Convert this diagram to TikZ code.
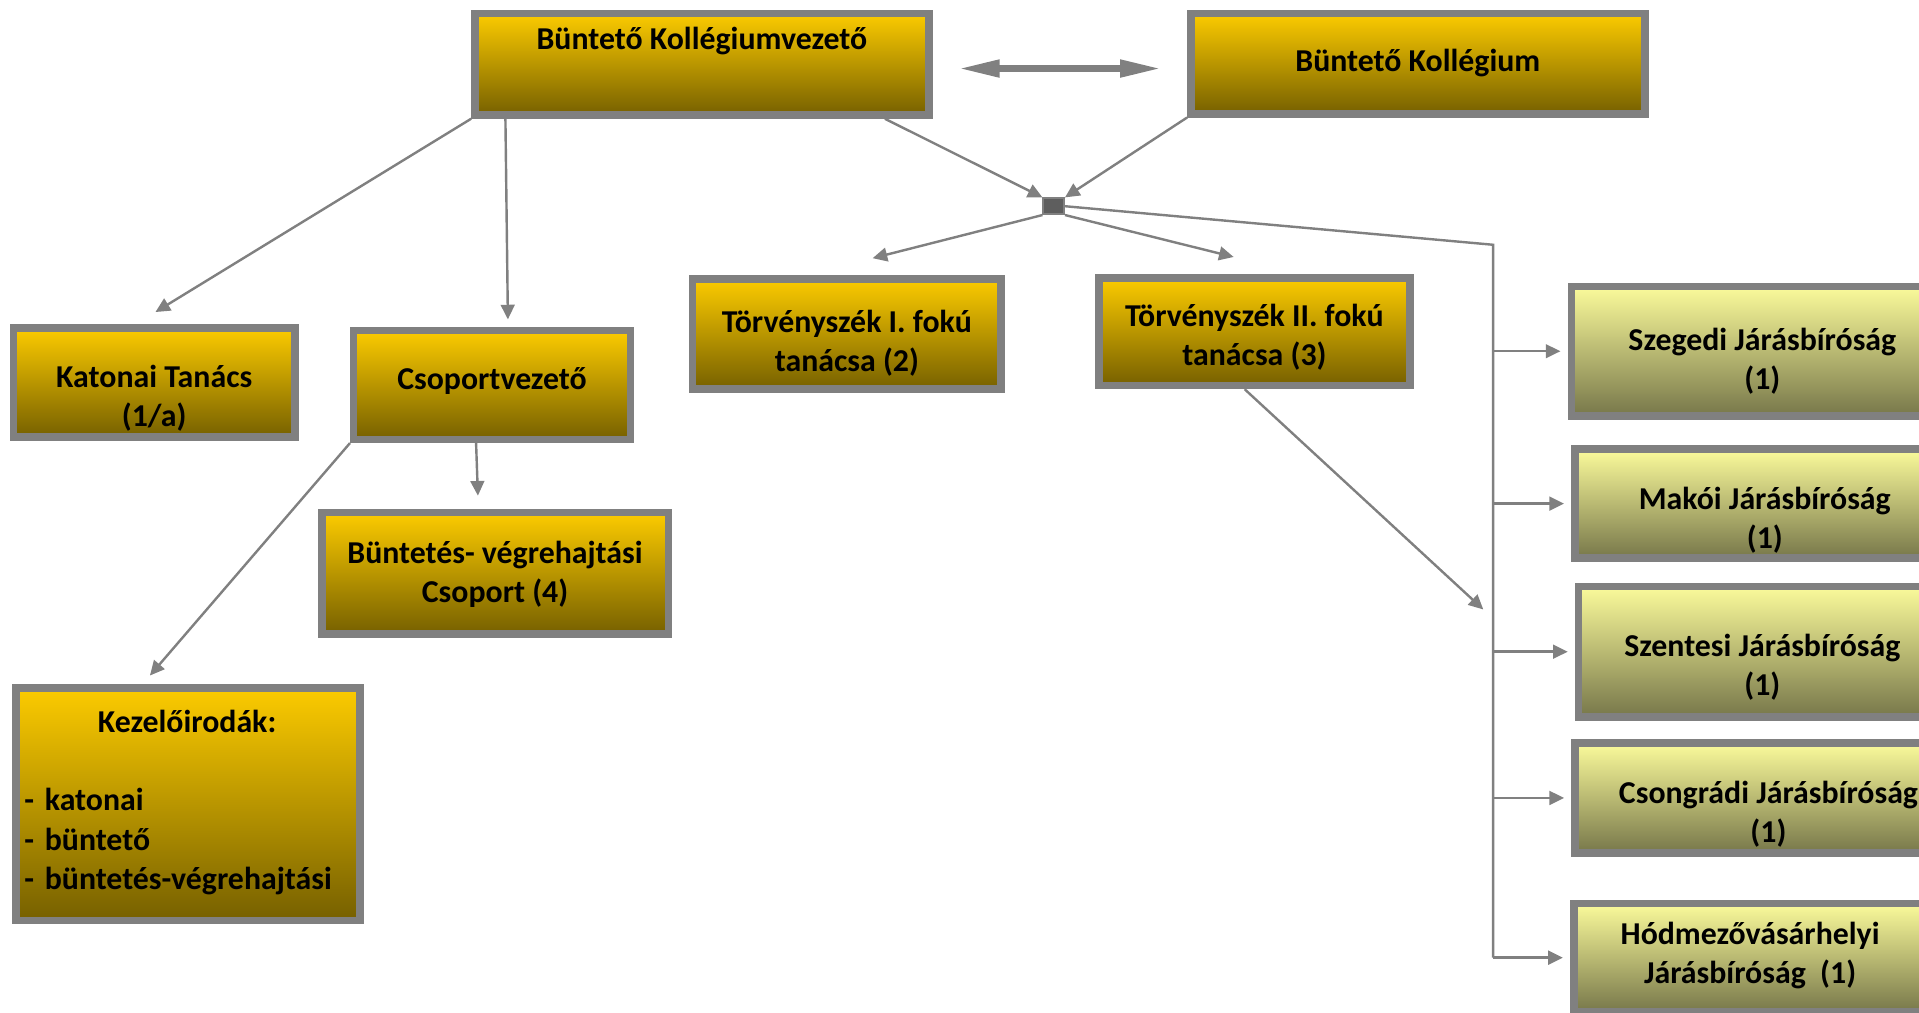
\documentclass[tikz,border=0pt]{standalone}
\usepackage{fontspec}
\setmainfont{Carlito}
\usepackage{tikz}
\usetikzlibrary{arrows.meta,calc,positioning}
\definecolor{framegray}{HTML}{808080}
\definecolor{goldtop}{HTML}{FCCB00}
\definecolor{goldbot}{HTML}{766000}
\definecolor{paletop}{HTML}{FBFB9B}
\definecolor{palebot}{HTML}{77774A}
\definecolor{hubgray}{HTML}{5E5E5E}
\def\px{0.025cm}
\tikzstyle{gbox} = [
    rectangle, draw=framegray, line width=4.3pt, inner sep=0pt, align=center,
    text depth=0pt, font=\fontsize{18.5}{22.8}\selectfont\bfseries,
    top color=goldtop, bottom color=goldbot]
\tikzstyle{jbox} = [gbox, top color=paletop, bottom color=palebot]
\tikzstyle{hubbox} = [rectangle, draw=framegray, fill=hubgray, line width=1pt,
    inner sep=0pt, minimum width=17*\px, minimum height=13*\px]
\tikzstyle{wire} = [draw=framegray, line width=1.4pt]
\tikzstyle{arrow} = [wire, -{Triangle[length=8.5pt,width=8pt]}]
\tikzstyle{twoway} = [draw=framegray, line width=3.9pt,
    {Triangle[length=24pt,width=9.5pt]}-{Triangle[length=24pt,width=9.5pt]}]

\begin{document}
\begin{tikzpicture}[x=\px, y=-\px]
\useasboundingbox (0,0) rectangle (1568,827);

% top row
\node (kv) [gbox, text height=2.8pt, text depth=20pt, minimum width=371*\px, minimum height=83*\px] at (573.5,52.5) {Büntető Kollégiumvezető};
\node (bk) [gbox, text height=29.1pt, text depth=20pt, minimum width=371*\px, minimum height=82*\px] at (1158.5,52) {Büntető Kollégium};
\node (hub) [hubbox] at (861,168.5) {};

% second row
\node (kat) [gbox, text height=51.1pt, minimum width=230*\px, minimum height=89*\px] at (126,312.5) {Katonai Tanács\\(1/a)};
\node (csop) [gbox, text height=25.5pt, text depth=20pt, minimum width=226*\px, minimum height=89*\px] at (402,314.5) {Csoportvezető};
\node (tI) [gbox, text height=43.3pt, minimum width=252*\px, minimum height=90*\px] at (692,273) {Törvényszék I. fokú\\tanácsa (2)};
\node (tII) [gbox, text height=39.1pt, minimum width=254*\px, minimum height=88*\px] at (1025,271) {Törvényszék II. fokú\\tanácsa (3)};
\node (bv) [gbox, text height=34.1pt, minimum width=283*\px, minimum height=99*\px] at (404.5,468.5) {Büntetés- végrehajtási\\Csoport (4)};
\node (kez) [gbox, align=left, text width=267*\px, text height=16.6pt, text depth=100pt,
    minimum width=281*\px, minimum height=190*\px] at (153.5,657) {
    \makebox[189pt]{Kezelőirodák:}\\ ~\\
    - katonai\\
    - büntető\\
    - büntetés-végrehajtási
};

% district courts
\node (szeg) [jbox, text height=44.7pt, minimum width=312*\px, minimum height=106*\px] at (1440,287) {Szegedi Járásbíróság\\(1)};
\node (mako) [jbox, text height=52.6pt, minimum width=310*\px, minimum height=89*\px] at (1442,411.5) {Makói Járásbíróság\\(1)};
\node (szent) [jbox, text height=51.1pt, minimum width=300*\px, minimum height=107*\px] at (1440,532.5) {Szentesi Járásbíróság\\(1)};
\node (csong) [jbox, text height=51.9pt, minimum width=316*\px, minimum height=90*\px] at (1445,652) {Csongrádi Járásbíróság\\(1)};
\node (hod) [jbox, text height=29.8pt, minimum width=288*\px, minimum height=89*\px] at (1430,782.5) {Hódmezővásárhelyi\\Járásbíróság\ \ (1)};

\coordinate (bustop) at (1220,200);
\coordinate (tIIend) at (1212,498);

\draw [twoway] ($(kv.east)+(21,3.5)$) -- ($(bk.west)+(-21,4)$);
\draw [arrow] (kv.south west) -- ($(kat.north)+(1,-10)$);
\draw [arrow] ($(kv.south west)+(28,0)$) -- ($(csop.north)+(13,-6)$);
\draw [arrow] ($(kv.south east)+(-39,0)$) -- (hub.north west);
\draw [arrow] (bk.south west) -- (hub.north east);
\draw [arrow] (hub.south west) -- ($(tI.north)+(21,-14)$);
\draw [arrow] (hub.south east) -- ($(tII.north)+(-17,-14)$);
\draw [wire] (hub.east) -- (bustop) -- (bustop |- hod.west);
\draw [arrow] (bustop |- szeg.west) -- ($(szeg.west)+(-6,0)$);
\draw [arrow] (bustop |- mako.west) -- ($(mako.west)+(-6,0)$);
\draw [arrow] (bustop |- szent.west) -- ($(szent.west)+(-6,0)$);
\draw [arrow] (bustop |- csong.west) -- ($(csong.west)+(-6,0)$);
\draw [arrow] (bustop |- hod.west) -- ($(hod.west)+(-6,0)$);
\draw [arrow] ($(tII.south)+(-8,0)$) -- (tIIend);
\draw [arrow] ($(csop.south)+(-13,0)$) -- ($(bv.north)+(-14,-11)$);
\draw [arrow] (csop.south west) -- ($(kez.north)+(-31,-7)$);
\end{tikzpicture}
\end{document}
